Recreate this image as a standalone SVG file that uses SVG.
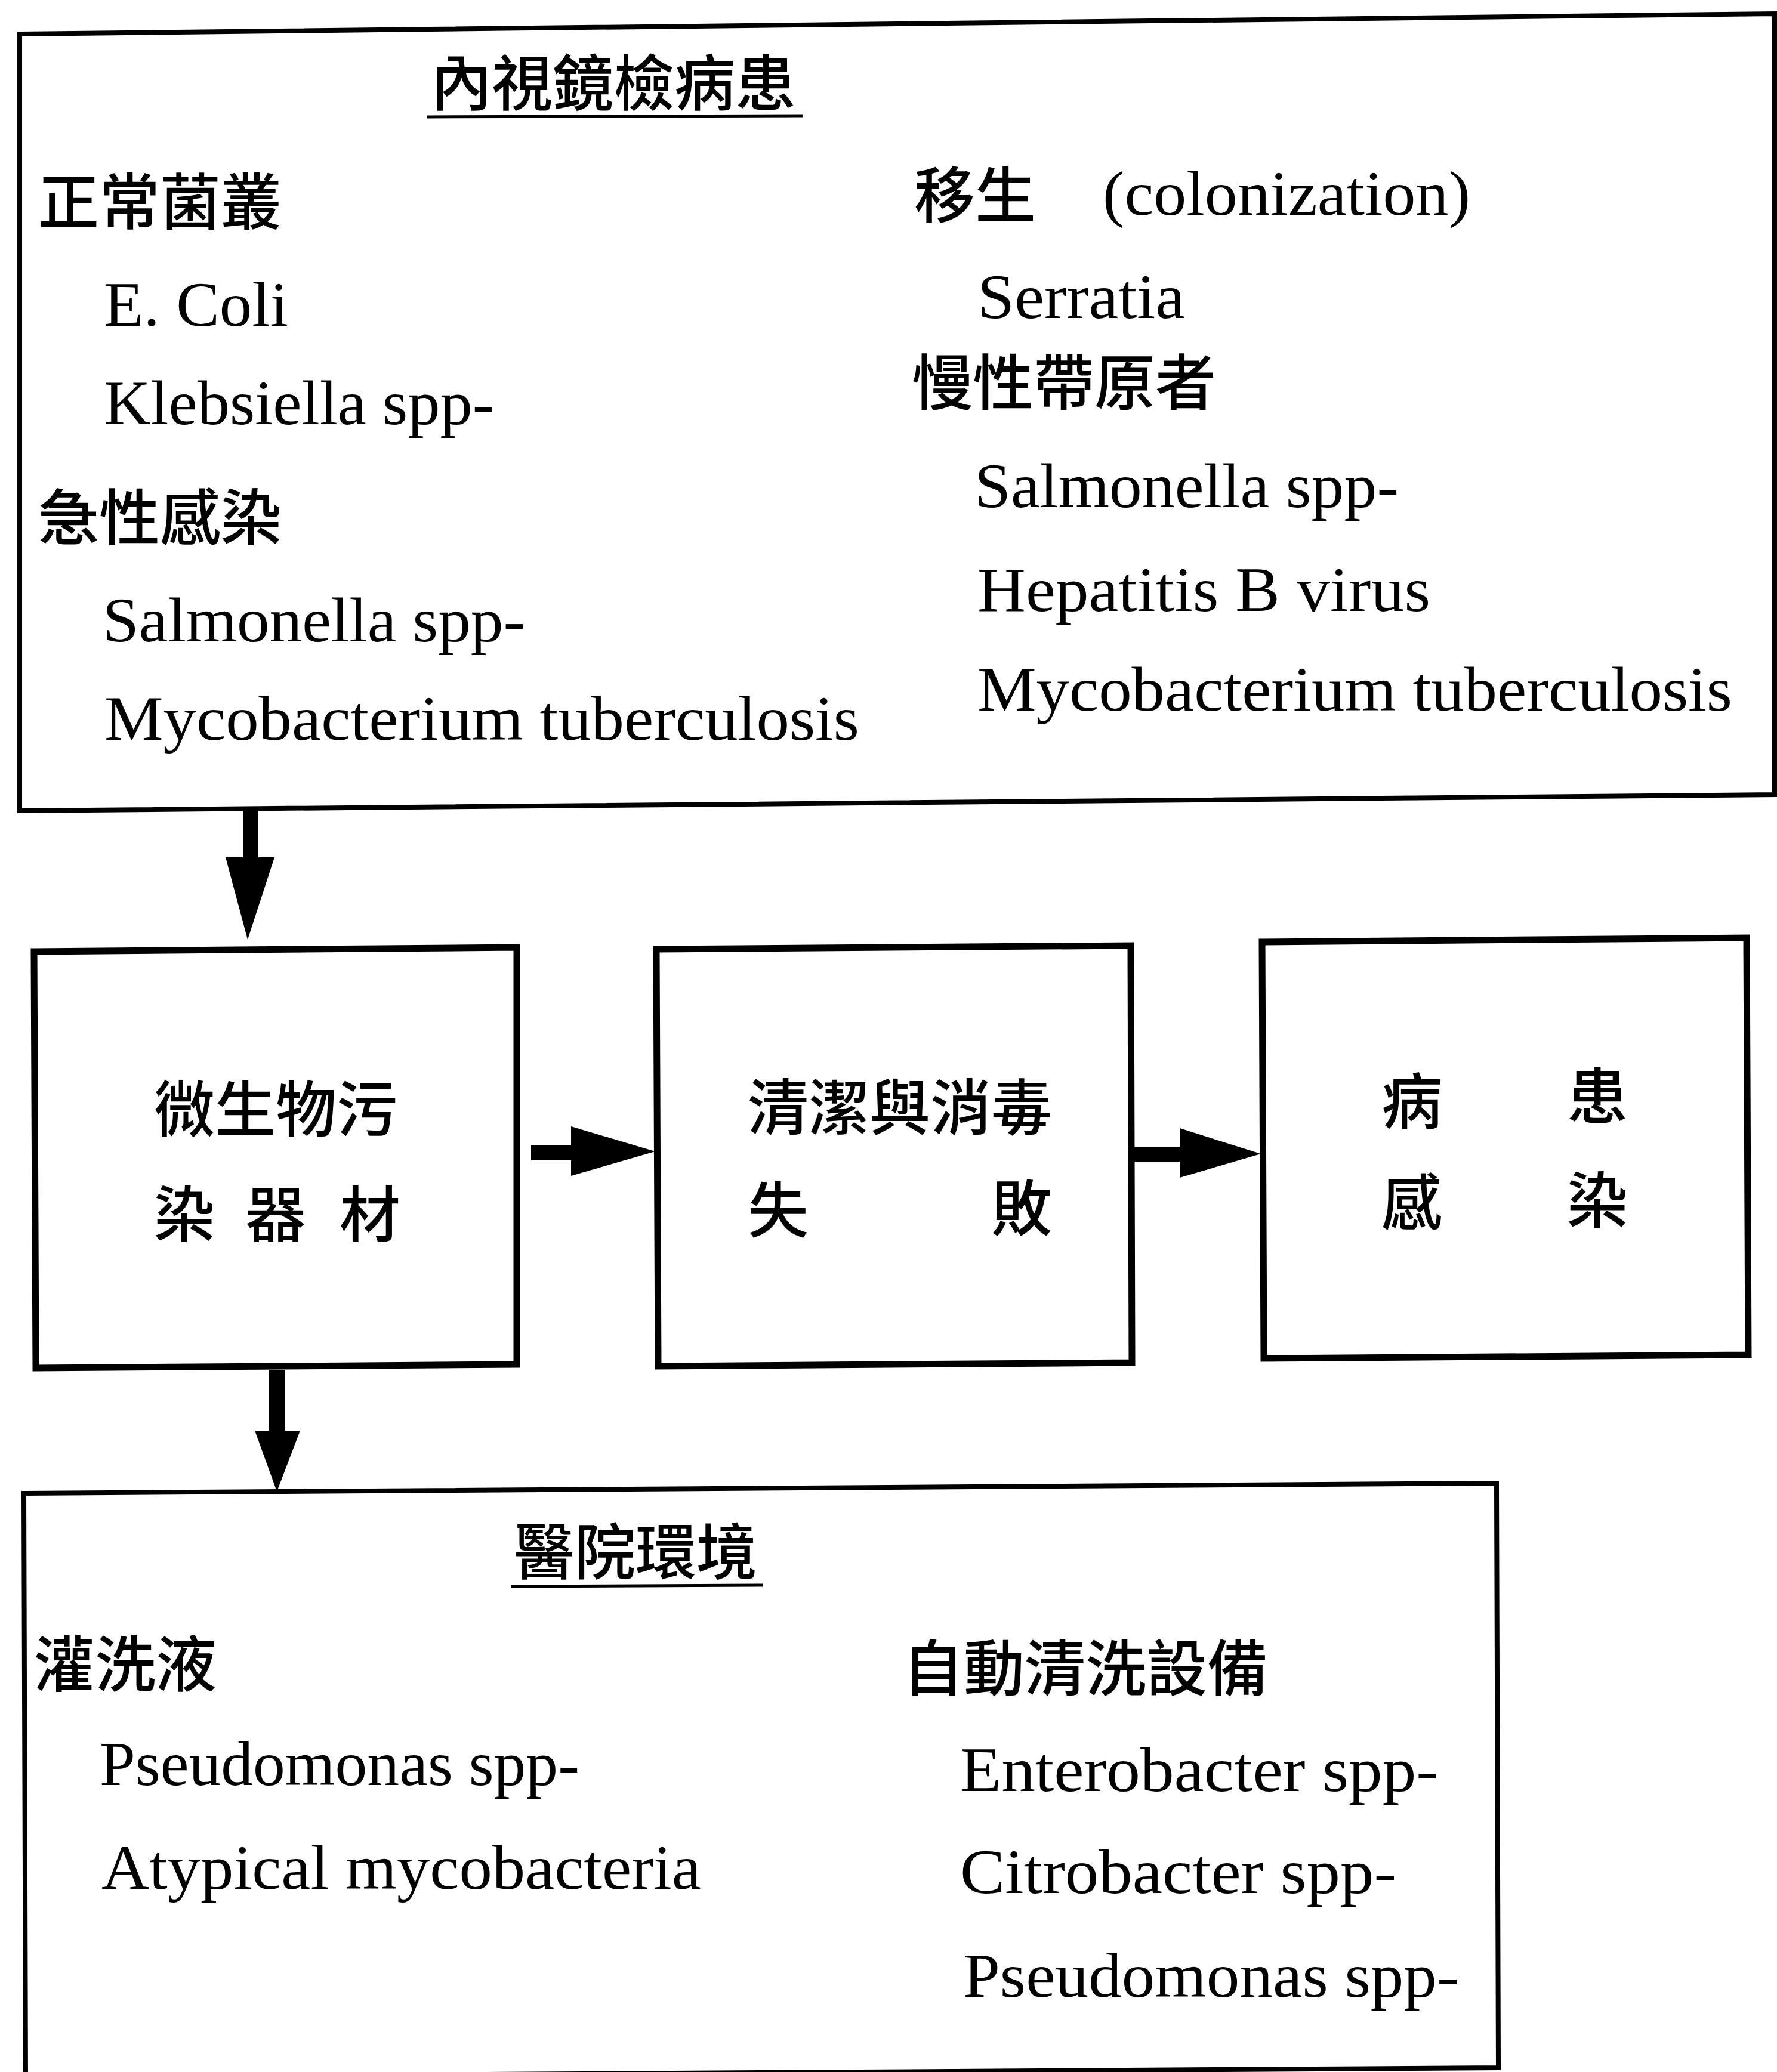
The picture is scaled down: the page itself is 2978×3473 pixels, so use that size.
<svg xmlns="http://www.w3.org/2000/svg" width="2978" height="3473" viewBox="0 0 2978 3473">
<style>
.box{fill:none;stroke:#000;stroke-width:8;stroke-linejoin:miter}
.mbox{fill:none;stroke:#000;stroke-width:11;stroke-linejoin:miter}
.lat{font-family:"Liberation Serif","Times New Roman",serif;font-size:106px;fill:#000}
.cjk{font-family:"Noto Sans CJK TC","Noto Sans CJK SC",sans-serif;font-size:102px;font-weight:500;fill:#000}
.ul{stroke:#000;stroke-width:5}
.arrow{fill:#000;stroke:none}
</style>
<rect x="0" y="0" width="2978" height="3473" fill="#fff"/>

<g id="patient-box">
<polygon class="box" points="33,57 2974,23 2974,1332 33,1359"/>
<text class="cjk" x="722" y="177">內視鏡檢病患</text>
<line class="ul" x1="716" y1="196" x2="1345" y2="194"/>
<text class="cjk" x="64" y="376">正常菌叢</text>
<text class="lat" x="174" y="546" textLength="309" lengthAdjust="spacingAndGlyphs">E. Coli</text>
<text class="lat" x="174" y="711" textLength="654" lengthAdjust="spacingAndGlyphs">Klebsiella spp-</text>
<text class="cjk" x="64" y="905">急性感染</text>
<text class="lat" x="172" y="1075" textLength="708" lengthAdjust="spacingAndGlyphs">Salmonella spp-</text>
<text class="lat" x="175" y="1240" textLength="1265" lengthAdjust="spacingAndGlyphs">Mycobacterium tuberculosis</text>
<text class="cjk" x="1532" y="365">移生</text>
<text class="lat" x="1848" y="360" textLength="616" lengthAdjust="spacingAndGlyphs">(colonization)</text>
<text class="lat" x="1638" y="533" textLength="348" lengthAdjust="spacingAndGlyphs">Serratia</text>
<text class="cjk" x="1528" y="679">慢性帶原者</text>
<text class="lat" x="1633" y="850" textLength="711" lengthAdjust="spacingAndGlyphs">Salmonella spp-</text>
<text class="lat" x="1638" y="1024" textLength="759" lengthAdjust="spacingAndGlyphs">Hepatitis B virus</text>
<text class="lat" x="1638" y="1191" textLength="1265" lengthAdjust="spacingAndGlyphs">Mycobacterium tuberculosis</text>
</g>

<g id="contaminated-equipment">
<polygon class="mbox" points="57,1595 866,1588 866,2287 60,2293"/>
<text class="cjk" x="258" y="1897">微生物污</text>
<text class="cjk" x="258" y="2073">染</text>
<text class="cjk" x="411" y="2073">器</text>
<text class="cjk" x="569" y="2073">材</text>
</g>

<g id="cleaning-failure">
<polygon class="mbox" points="1100,1591 1895,1585 1897,2284 1103,2290"/>
<text class="cjk" x="1253" y="1894">清潔與消毒</text>
<text class="cjk" x="1253" y="2066">失</text>
<text class="cjk" x="1661" y="2063">敗</text>
</g>

<g id="patient-infection">
<polygon class="mbox" points="2115,1579 2927,1572 2930,2271 2118,2277"/>
<text class="cjk" x="2315" y="1884">病</text>
<text class="cjk" x="2626" y="1875">患</text>
<text class="cjk" x="2315" y="2053">感</text>
<text class="cjk" x="2626" y="2050">染</text>
</g>

<g id="hospital-environment">
<polygon class="box" points="40,2503 2508,2486 2511,3466 43,3482"/>
<text class="cjk" x="861" y="2639">醫院環境</text>
<line class="ul" x1="856" y1="2659" x2="1278" y2="2657"/>
<text class="cjk" x="57" y="2827">灌洗液</text>
<text class="lat" x="167" y="2992" textLength="804" lengthAdjust="spacingAndGlyphs">Pseudomonas spp-</text>
<text class="lat" x="170" y="3166" textLength="1005" lengthAdjust="spacingAndGlyphs">Atypical mycobacteria</text>
<text class="cjk" x="1513" y="2834">自動清洗設備</text>
<text class="lat" x="1609" y="3002" textLength="802" lengthAdjust="spacingAndGlyphs">Enterobacter spp-</text>
<text class="lat" x="1609" y="3173" textLength="731" lengthAdjust="spacingAndGlyphs">Citrobacter spp-</text>
<text class="lat" x="1614" y="3347" textLength="831" lengthAdjust="spacingAndGlyphs">Pseudomonas spp-</text>
</g>

<g id="connectors">
<polygon class="arrow" points="407,1358 433,1358 433,1437 460,1437 415,1575 378,1437 407,1437"/>
<polygon class="arrow" points="890,1920 957,1920 957,1888 1098,1930 957,1971 957,1945 890,1945"/>
<polygon class="arrow" points="1900,1922 1977,1922 1977,1891 2113,1934 1977,1974 1977,1947 1900,1947"/>
<polygon class="arrow" points="450,2296 478,2296 478,2398 503,2398 464,2500 427,2398 450,2398"/>
</g>
</svg>
